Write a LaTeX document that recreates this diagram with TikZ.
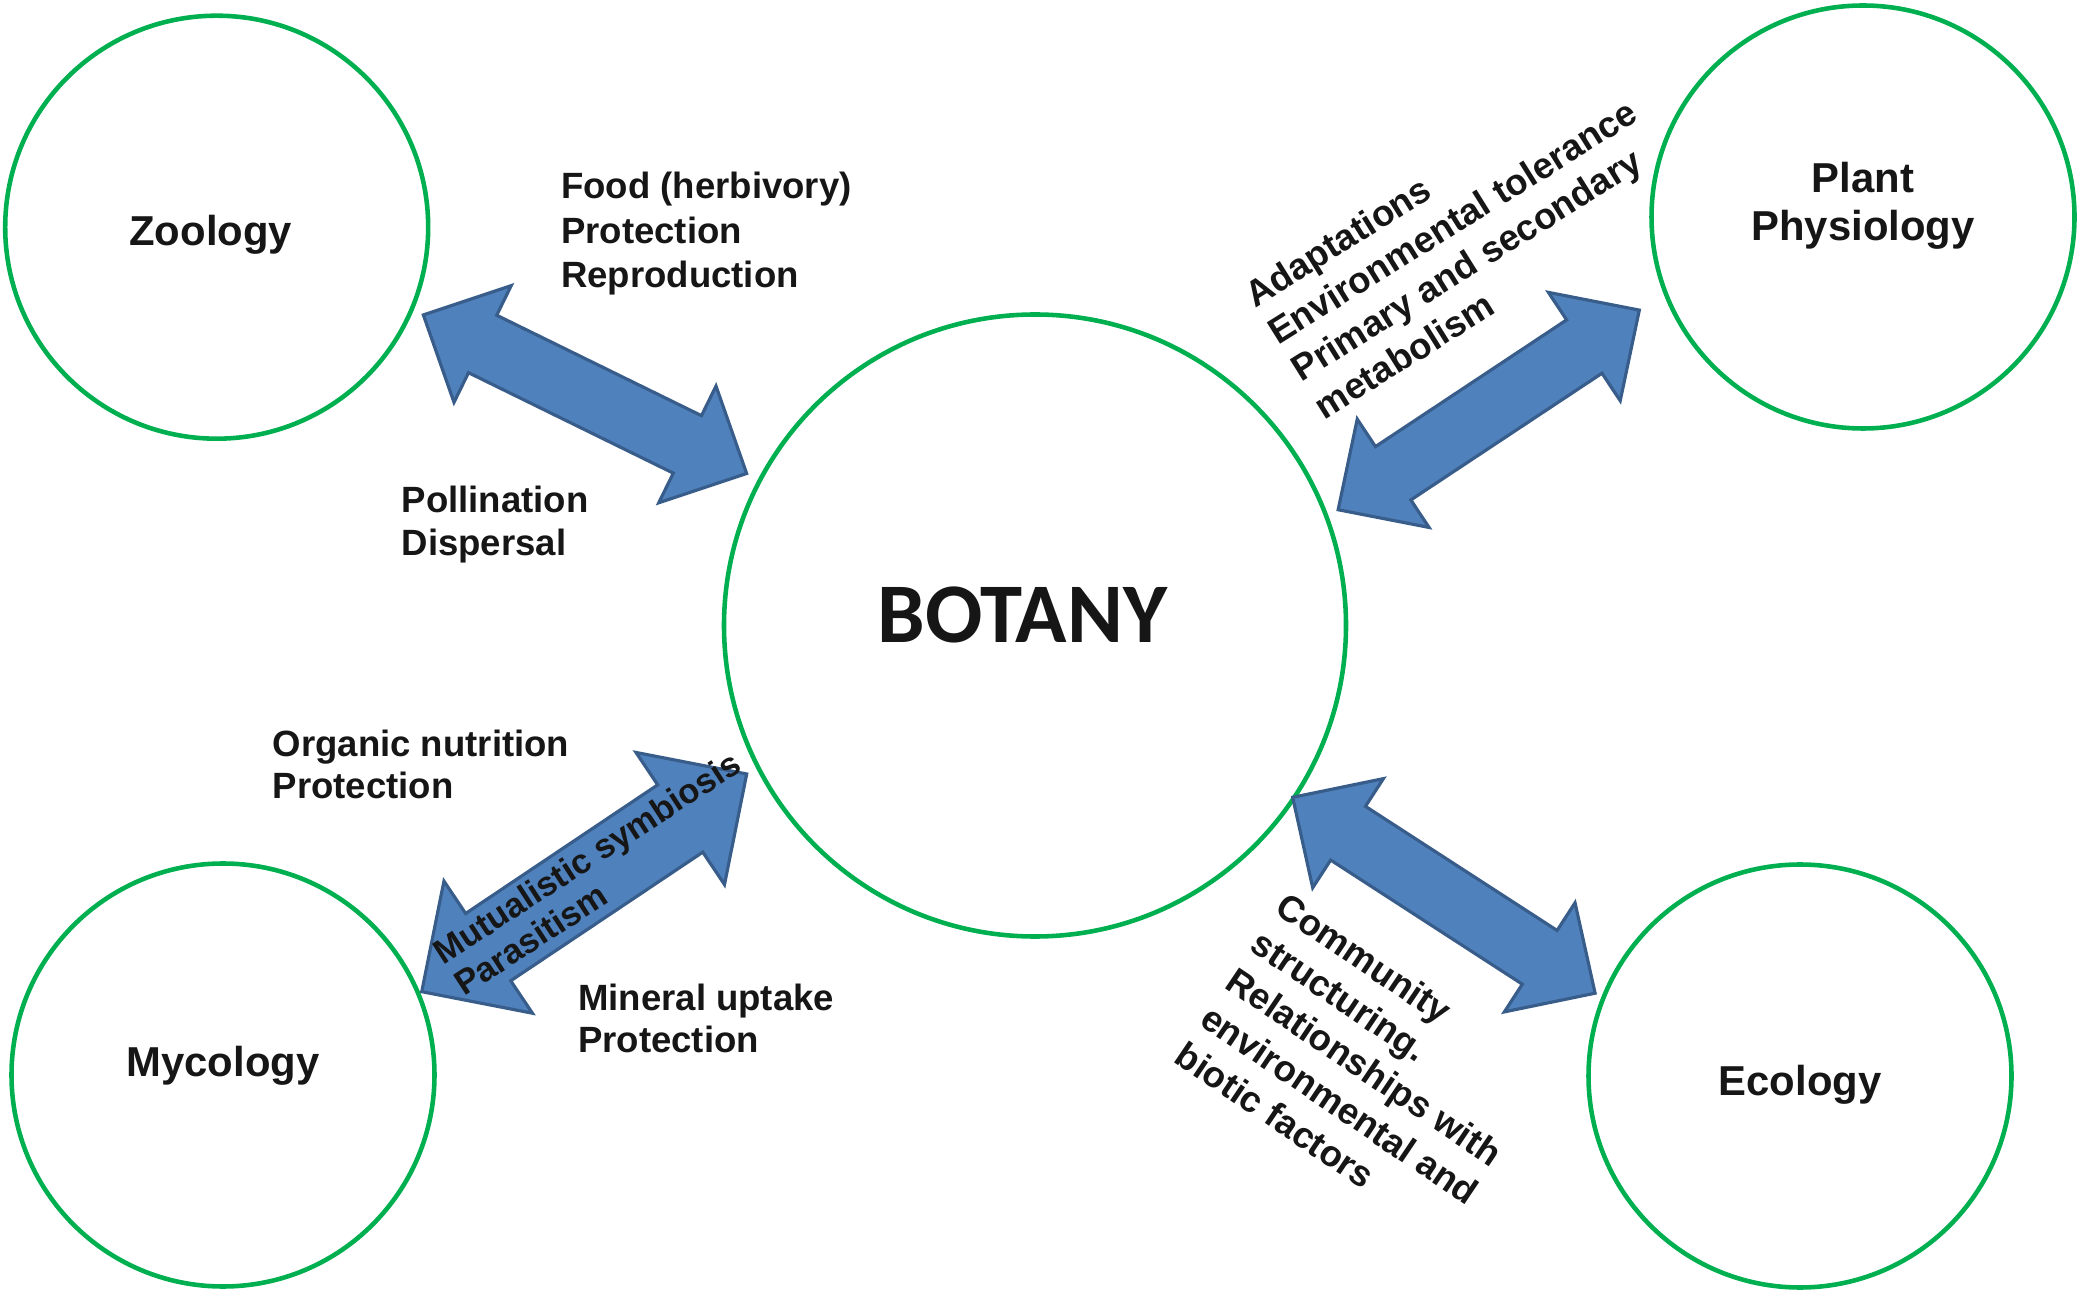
\documentclass[tikz,border=0pt]{standalone}
\usepackage{fontspec}
\setmainfont{Liberation Sans}
\newfontfamily\calibri{Carlito}
\usetikzlibrary{calc}

\definecolor{ringgreen}{HTML}{00B050}
\definecolor{arrowfill}{HTML}{4F81BD}
\definecolor{arrowline}{HTML}{385D8A}
\definecolor{ink}{HTML}{161616}

% block double arrow: #1 tip, #2 tip, head length, head half width, shaft half width
\newcommand{\dblarrow}[5]{%
\draw[barrow] (#1)
 -- ($($(#1)!#3!(#2)$)!#4!90:(#2)$)
 -- ($($(#1)!#3!(#2)$)!#5!90:(#2)$)
 -- ($($(#2)!#3!(#1)$)!#5!-90:(#1)$)
 -- ($($(#2)!#3!(#1)$)!#4!-90:(#1)$)
 -- (#2)
 -- ($($(#2)!#3!(#1)$)!#4!90:(#1)$)
 -- ($($(#2)!#3!(#1)$)!#5!90:(#1)$)
 -- ($($(#1)!#3!(#2)$)!#5!-90:(#2)$)
 -- ($($(#1)!#3!(#2)$)!#4!-90:(#2)$)
 -- cycle;}

\begin{document}
\begin{tikzpicture}[line join=round,line cap=round,
field/.style={circle,draw=ringgreen,line width=1.3pt,minimum size=4.23cm,inner sep=0pt},
fieldname/.style={text=ink,align=center,inner sep=0pt,
  font=\fontsize{11.9}{13.5}\selectfont\bfseries},
note/.style={anchor=north west,inner sep=0pt,text=ink,align=left,
  font=\fontsize{10.4}{12.1}\selectfont\bfseries},
barrow/.style={fill=arrowfill,draw=arrowline,line width=0.9pt,line join=miter}]

\useasboundingbox (0,0) rectangle (20.78,-12.97);

\node[field,label={[fieldname,xshift=-0.06cm,yshift=-0.08cm]center:Zoology}] (zoo) at (2.167,-2.272) {};
\node[field,label={[fieldname,yshift=0.11cm]center:Plant\\Physiology}] (phy) at (18.63,-2.17) {};
\node[field,minimum size=6.22cm,label={[fieldname,xshift=-0.126cm,yshift=0.106cm,
  font=\calibri\fontsize{24.15}{29}\selectfont\bfseries]center:BOTANY}] (bot) at (10.35,-6.255) {};
\node[field,label={[fieldname,yshift=0.09cm]center:Mycology}] (myc) at (2.23,-10.75) {};
\node[field,label={[fieldname,yshift=-0.09cm]center:Ecology}] (eco) at (18.00,-10.76) {};

\coordinate (zoo-e) at ($(zoo.center)+(-23.0:2.245)$);
\coordinate (bot-nw) at ($(bot.center)+(152.2:3.26)$);
\coordinate (bot-ne) at ($(bot.center)+(20.9:3.245)$);
\coordinate (phy-w) at ($(phy.center)+(202.6:2.423)$);
\coordinate (myc-e) at ($(myc.center)+(22.75:2.155)$);
\coordinate (bot-sw) at ($(bot.center)+(207.25:3.243)$);
\coordinate (bot-se) at ($(bot.center)+(-33.7:3.097)$);
\coordinate (eco-w) at ($(eco.center)+(158.0:2.21)$);

\dblarrow{zoo-e}{bot-nw}{0.66cm}{0.65cm}{0.32cm}
\dblarrow{bot-ne}{phy-w}{0.66cm}{0.65cm}{0.32cm}
\dblarrow{myc-e}{bot-sw}{0.80cm}{0.795cm}{0.405cm}
\dblarrow{bot-se}{eco-w}{0.66cm}{0.65cm}{0.32cm}

\node[note,font=\fontsize{10.4}{12.66}\selectfont\bfseries] (food) at (5.605,-1.714) {Food (herbivory)\\Protection\\Reproduction};
\node[note] (poll) at (4.01,-4.854) {Pollination\\Dispersal};
\node[note] (orgn) at (2.72,-7.29) {Organic nutrition\\Protection};
\node[note] (minr) at (5.775,-9.83) {Mineral uptake\\Protection};

\node[note,rotate=32,font=\fontsize{10.4}{12.5}\selectfont\bfseries] (adapt) at (12.40,-2.857)
 {Adaptations\\Environmental tolerance\\Primary and secondary\\metabolism};
\node[note,rotate=33,font=\fontsize{9.8}{10.8}\selectfont\bfseries] (symb) at (4.29,-9.44)
 {Mutualistic symbiosis\\Parasitism};
\node[note,rotate=-34,font=\fontsize{10.4}{12.8}\selectfont\bfseries] (comm) at (12.882,-8.896)
 {Community\\structuring.\\Relationships with\\environmental and\\biotic factors};

\end{tikzpicture}
\end{document}
